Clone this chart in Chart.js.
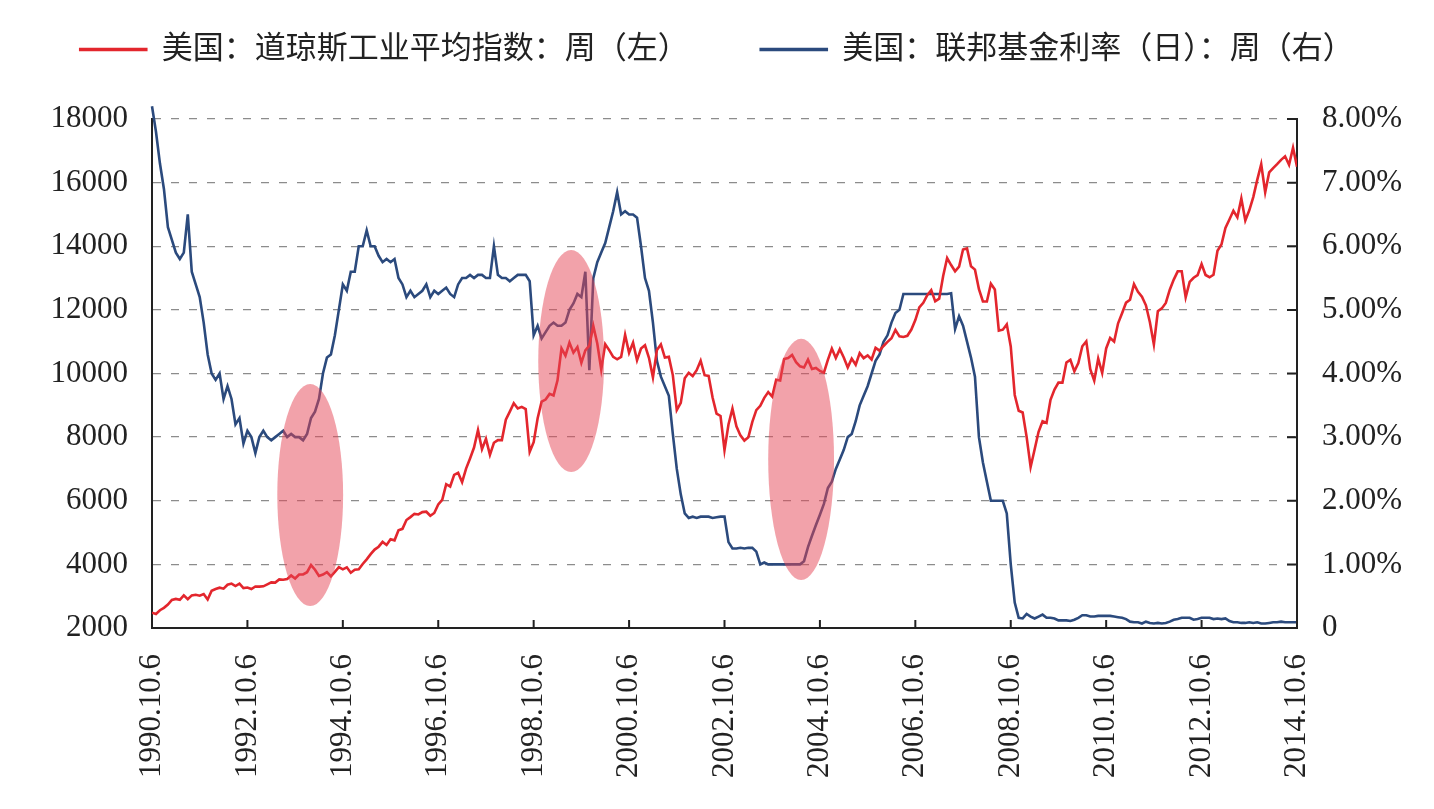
<!DOCTYPE html>
<html lang="zh">
<head>
  <meta charset="UTF-8" />
  <title>道琼斯工业平均指数与联邦基金利率</title>
  <script src="https://cdn.jsdelivr.net/npm/chart.js"></script>
  <style>
    body { margin: 0; background: #fff; }
  </style>
</head>
<body>
  <canvas id="dowFedChart" width="1434" height="809"></canvas>

  <script>
    // first weekly observation: 1990-10-06, one value per month after that
    const firstWeek = 1990.764;

    const xTickLabels = ['1990.10.6', '1992.10.6', '1994.10.6', '1996.10.6', '1998.10.6', '2000.10.6', '2002.10.6',
      '2004.10.6', '2006.10.6', '2008.10.6', '2010.10.6', '2012.10.6', '2014.10.6'];

    // 美国：道琼斯工业平均指数（左轴）
    const dowIndex = [
      2480, 2442, 2560, 2634,
      2736, 2882, 2914, 2888, 3028, 2907, 3025, 3044, 3017, 3069, 2895, 3169,
      3224, 3267, 3236, 3359, 3397, 3319, 3394, 3257, 3272, 3226, 3305, 3301,
      3310, 3371, 3435, 3428, 3527, 3516, 3540, 3651, 3555, 3681, 3684, 3754,
      3978, 3832, 3636, 3682, 3758, 3625, 3765, 3913, 3843, 3908, 3739, 3834,
      3844, 4011, 4158, 4321, 4465, 4556, 4708, 4611, 4789, 4756, 5075, 5117,
      5395, 5486, 5588, 5569, 5643, 5655, 5529, 5616, 5882, 6029, 6522, 6448,
      6813, 6878, 6584, 7009, 7331, 7673, 8223, 7622, 7945, 7442, 7823, 7908,
      7907, 8546, 8800, 9063, 8900, 8952, 8883, 7539, 7843, 8592, 9117, 9181,
      9359, 9307, 9786, 10789, 10560, 10971, 10655, 10829, 10337, 10729, 10878, 11497,
      10941, 10128, 10922, 10734, 10522, 10448, 10522, 11215, 10651, 10971, 10415, 10787,
      10887, 10495, 9879, 10735, 10912, 10502, 10523, 9950, 8848, 9075, 9852, 10021,
      9920, 10106, 10404, 9946, 9925, 9243, 8737, 8664, 7592, 8397, 8896, 8342,
      8054, 7891, 7992, 8480, 8850, 8985, 9234, 9416, 9275, 9801, 9782, 10454,
      10488, 10584, 10358, 10226, 10188, 10435, 10140, 10174, 10080, 10027, 10428, 10783,
      10490, 10766, 10504, 10193, 10467, 10275, 10641, 10482, 10569, 10440, 10806, 10718,
      10865, 10993, 11109, 11367, 11168, 11150, 11186, 11381, 11679, 12081, 12222, 12463,
      12622, 12269, 12354, 13063, 13628, 13409, 13212, 13358, 13896, 13930, 13372, 13265,
      12650, 12266, 12263, 12820, 12638, 11350, 11378, 11544, 10851, 9325, 8829, 8776,
      8001, 7063, 7609, 8168, 8500, 8447, 9172, 9496, 9712, 9713, 10345, 10428,
      10067, 10325, 10857, 11009, 10137, 9774, 10466, 10015, 10788, 11118, 11006, 11578,
      11892, 12226, 12320, 12811, 12570, 12414, 12143, 11614, 10913, 11955, 12046, 12218,
      12633, 12952, 13212, 13214, 12393, 12880, 13009, 13091, 13437, 13096, 13026, 13104,
      13861, 14054, 14579, 14840, 15116, 14910, 15500, 14810, 15130, 15546, 16086, 16577,
      15699, 16322, 16458, 16581, 16717, 16827, 16563, 17098, 16500
    ];

    // 美国：联邦基金利率（日），% （右轴）
    const fedFundsRate = [
      8.2, 7.8, 7.3,
      6.9, 6.3, 6.1, 5.9, 5.8, 5.9, 6.5, 5.6, 5.4, 5.2, 4.8, 4.3,
      4.0, 3.9, 4.0, 3.6, 3.8, 3.6, 3.2, 3.3, 2.9, 3.1, 3.0, 2.75,
      3.0, 3.1, 3.0, 2.95, 3.0, 3.05, 3.1, 3.0, 3.05, 3.0, 3.0, 2.95,
      3.05, 3.3, 3.4, 3.6, 4.0, 4.25, 4.3, 4.6, 5.0, 5.4, 5.3, 5.6,
      5.6, 6.0, 6.0, 6.25, 6.0, 6.0, 5.85, 5.75, 5.8, 5.75, 5.8, 5.5,
      5.4, 5.2, 5.3, 5.2, 5.25, 5.3, 5.4, 5.2, 5.3, 5.25, 5.3, 5.35,
      5.25, 5.2, 5.4, 5.5, 5.5, 5.55, 5.5, 5.55, 5.55, 5.5, 5.5, 6.0,
      5.55, 5.5, 5.5, 5.45, 5.5, 5.55, 5.55, 5.55, 5.45, 4.6, 4.75, 4.55,
      4.65, 4.75, 4.8, 4.75, 4.75, 4.8, 5.0, 5.1, 5.25, 5.2, 5.6, 4.05,
      5.5, 5.75, 5.9, 6.05, 6.3, 6.55, 6.85, 6.5, 6.55, 6.5, 6.5, 6.45,
      6.0, 5.5, 5.3, 4.8, 4.2, 3.95, 3.8, 3.65, 3.05, 2.5, 2.1, 1.8,
      1.73, 1.75, 1.73, 1.75, 1.75, 1.75, 1.73, 1.74, 1.75, 1.75, 1.35, 1.25,
      1.25, 1.26, 1.25, 1.26, 1.26, 1.2, 1.0, 1.03, 1.0, 1.0, 1.0, 1.0,
      1.0, 1.0, 1.0, 1.0, 1.0, 1.05, 1.27, 1.45, 1.62, 1.78, 1.95, 2.2,
      2.3, 2.5, 2.65, 2.8, 3.0, 3.05, 3.25, 3.5, 3.65, 3.8, 4.0, 4.2,
      4.3, 4.5, 4.6, 4.8, 4.95, 5.0, 5.25, 5.25, 5.25, 5.25, 5.25, 5.25,
      5.25, 5.25, 5.25, 5.25, 5.25, 5.25, 5.26, 4.7, 4.9, 4.75, 4.5, 4.25,
      3.95, 3.0, 2.6, 2.3, 2.0, 2.0, 2.0, 2.0, 1.8, 1.0, 0.4, 0.16,
      0.15, 0.22, 0.18, 0.15, 0.18, 0.21, 0.16, 0.16, 0.15, 0.12, 0.12, 0.12,
      0.11, 0.13, 0.16, 0.2, 0.2, 0.18, 0.18, 0.19, 0.19, 0.19, 0.19, 0.18,
      0.17, 0.16, 0.14, 0.1, 0.09, 0.09, 0.07, 0.1, 0.08, 0.07, 0.08, 0.07,
      0.08, 0.1, 0.13, 0.14, 0.16, 0.16, 0.16, 0.13, 0.14, 0.16, 0.16, 0.16,
      0.14, 0.15, 0.14, 0.15, 0.11, 0.09, 0.09, 0.08, 0.08, 0.09, 0.08, 0.09,
      0.07, 0.07, 0.08, 0.09, 0.09, 0.1, 0.09, 0.09, 0.09, 0.09
    ];

    // pink highlight ovals: centre year, centre (left-axis units), half height
    const ovalYears = [1994.08, 1999.55, 2004.37];
    const ovalMid = [6180, 10390, 7300];
    const ovalHalf = [3490, 3490, 3790];
    const ovalHalfYears = 0.69;

    const FONT = "'Liberation Serif', 'Noto Sans CJK SC', serif";
    const TEXT = '#222';

    const toPoints = arr => arr.map((v, i) => ({ x: firstWeek + i / 12, y: v }));

    const highlightOvals = {
      id: 'highlightOvals',
      afterDatasetsDraw(chart) {
        const { ctx, scales: { x, y } } = chart;
        ctx.save();
        ctx.fillStyle = 'rgba(230, 70, 85, 0.5)';
        ovalYears.forEach((yr, i) => {
          const cx = x.getPixelForValue(yr);
          const cy = y.getPixelForValue(ovalMid[i]);
          const rx = x.getPixelForValue(yr + ovalHalfYears) - cx;
          const ry = cy - y.getPixelForValue(ovalMid[i] + ovalHalf[i]);
          ctx.beginPath();
          ctx.ellipse(cx, cy, rx, ry, 0, 0, Math.PI * 2);
          ctx.fill();
        });
        ctx.restore();
      }
    };

    // short tick marks pointing into the plot
    const innerTicks = {
      id: 'innerTicks',
      afterDraw(chart) {
        const { ctx, chartArea, scales } = chart;
        ctx.save();
        ctx.strokeStyle = TEXT;
        ctx.lineWidth = 2;
        ctx.beginPath();
        scales.x.ticks.forEach(t => {
          const px = scales.x.getPixelForValue(t.value);
          ctx.moveTo(px, chartArea.bottom);
          ctx.lineTo(px, chartArea.bottom - 8);
        });
        scales.y1.ticks.forEach(t => {
          const py = scales.y1.getPixelForValue(t.value);
          ctx.moveTo(chartArea.right, py);
          ctx.lineTo(chartArea.right - 10, py);
        });
        ctx.stroke();
        ctx.restore();
      }
    };

    // give the legend a fixed height so the plot starts where it should
    const legendSpace = {
      id: 'legendSpace',
      beforeInit(chart) {
        const fit = chart.legend.fit;
        chart.legend.fit = function () {
          fit.call(this);
          this.height = 157;
        };
      }
    };

    new Chart(document.getElementById('dowFedChart'), {
      type: 'line',
      data: {
        datasets: [
          {
            label: '美国：道琼斯工业平均指数：周（左）',
            data: toPoints(dowIndex),
            yAxisID: 'y',
            borderColor: '#e3262d',
            backgroundColor: '#e3262d',
            borderWidth: 2.6,
            pointRadius: 0,
            tension: 0
          },
          {
            label: '美国：联邦基金利率（日）：周（右）',
            data: toPoints(fedFundsRate),
            yAxisID: 'y1',
            borderColor: '#2b4a7d',
            backgroundColor: '#2b4a7d',
            borderWidth: 2.6,
            pointRadius: 0,
            tension: 0,
            clip: false
          }
        ]
      },
      options: {
        responsive: false,
        devicePixelRatio: 1,
        animation: false,
        layout: { padding: { top: -38, left: 0, right: 0, bottom: 0 } },
        plugins: {
          tooltip: { enabled: false },
          legend: {
            position: 'top',
            labels: {
              boxWidth: 66,
              boxHeight: 1,
              padding: 72,
              color: TEXT,
              font: { family: FONT, size: 31 }
            }
          }
        },
        scales: {
          x: {
            type: 'linear',
            min: firstWeek,
            max: firstWeek + 24,
            afterBuildTicks(scale) {
              scale.ticks = xTickLabels.map((_, i) => ({ value: firstWeek + 2 * i }));
            },
            afterFit(scale) { scale.height = 181; },
            grid: { display: false, drawTicks: false },
            border: { display: true, color: TEXT, width: 2 },
            ticks: {
              autoSkip: false,
              minRotation: 90,
              maxRotation: 90,
              padding: 26,
              color: TEXT,
              font: { family: FONT, size: 31 },
              callback: (value, index) => xTickLabels[index]
            }
          },
          y: {
            position: 'left',
            min: 2000,
            max: 18000,
            afterFit(scale) { scale.width = 152; },
            grid: { color: '#8c8c8c', lineWidth: 1.3, drawTicks: false },
            border: { display: true, color: TEXT, width: 2, dash: [8, 10] },
            ticks: {
              stepSize: 2000,
              padding: 24,
              color: TEXT,
              font: { family: FONT, size: 31 },
              callback: value => String(value)
            }
          },
          y1: {
            position: 'right',
            min: 0,
            max: 8,
            afterFit(scale) { scale.width = 137; },
            grid: { display: false, drawTicks: false },
            border: { display: true, color: TEXT, width: 2 },
            ticks: {
              stepSize: 1,
              padding: 25,
              color: TEXT,
              font: { family: FONT, size: 31 },
              callback: value => value === 0 ? '0' : value.toFixed(2) + '%'
            }
          }
        }
      },
      plugins: [legendSpace, highlightOvals, innerTicks]
    });
  </script>
</body>
</html>
